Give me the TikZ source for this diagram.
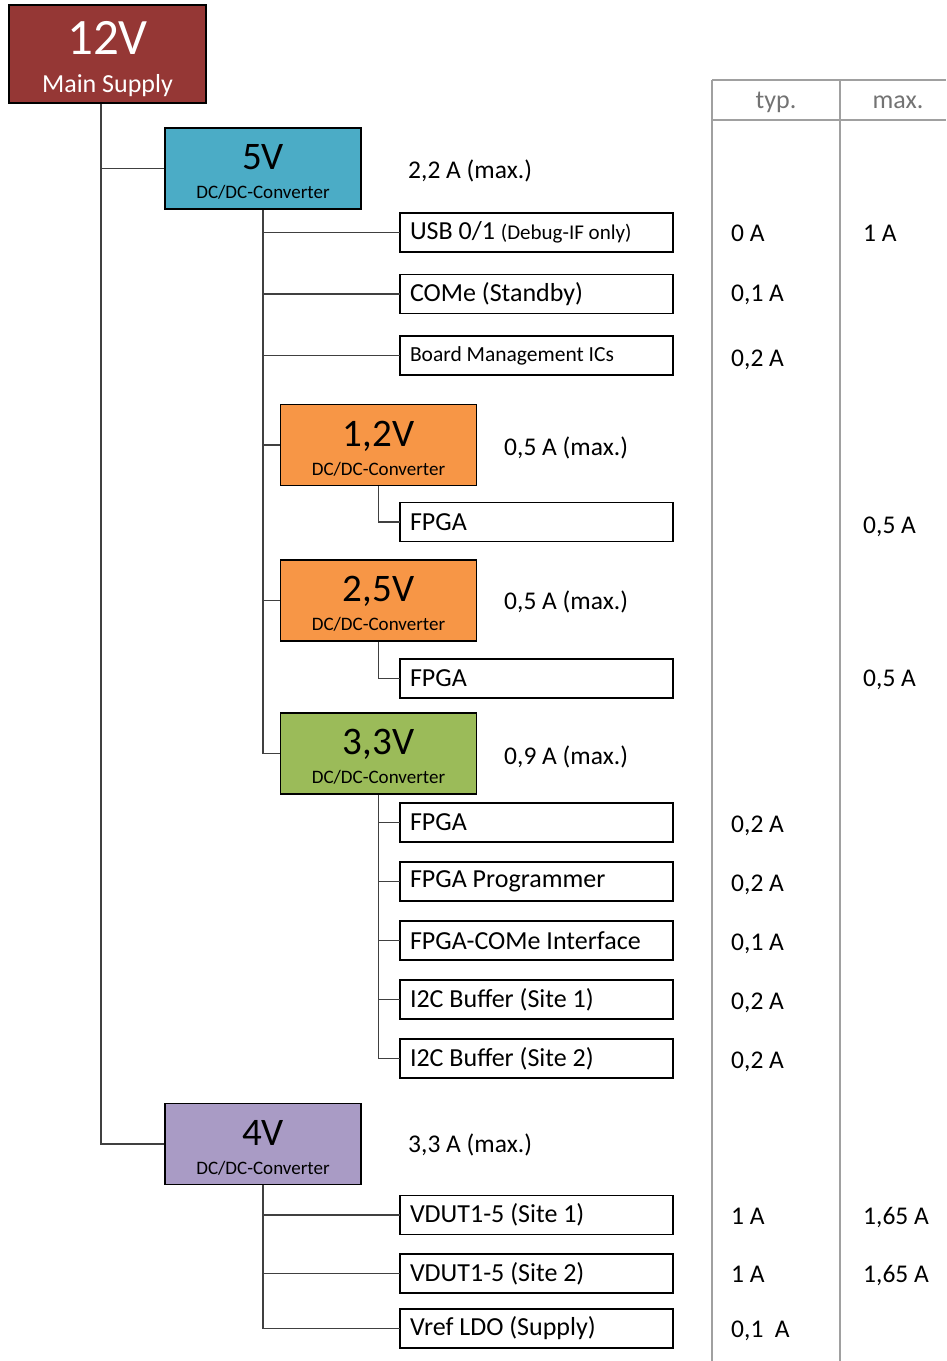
\documentclass[tikz,border=0pt]{standalone}
\usepackage{fontspec}
\setmainfont{Carlito}
\usetikzlibrary{positioning}

\definecolor{supplyred}{RGB}{149,55,53}
\definecolor{convblue}{RGB}{75,172,198}
\definecolor{convorange}{RGB}{247,150,70}
\definecolor{convgreen}{RGB}{155,187,89}
\definecolor{convpurple}{RGB}{169,155,197}
\definecolor{tablegray}{RGB}{160,160,160}

\newcommand{\fsize}[1]{\fontsize{#1}{#1}\selectfont}
\newcommand{\volts}[1]{{\fsize{39}\rule{0pt}{32pt}#1}}

\tikzset{
	conv/.style={draw, line width=1.7pt, minimum width=196pt, minimum height=81pt,
		align=center, inner sep=0pt, font=\fontsize{19}{29}\selectfont},
	load/.style={draw, line width=1.7pt, text width=253pt, inner xsep=10pt, inner ysep=0pt,
		outer sep=0pt, minimum height=39pt, align=flush left, font=\fsize{26}},
	elbow/.style={to path={|- (\tikztotarget)}},
	wire/.style={line width=1.3pt, black!75},
	amp/.style={anchor=base west, inner sep=0pt, font=\fsize{25.5}},
	head/.style={anchor=base, inner sep=0pt, font=\fsize{26}, text=black!55}
}

\begin{document}
\begin{tikzpicture}[x=1pt, y=-1pt]
			\useasboundingbox (0,0) rectangle (946,1361);
			\node (supply) [conv, fill=supplyred, text=white, minimum width=197pt, minimum height=98pt,
				font=\fontsize{26}{38}\selectfont] at (107.5,54) {{\fsize{51}\rule{0pt}{44pt}12V}\\Main Supply};
			\node (c5) [conv, fill=convblue] at (263,168.5) {\volts{5V}\\DC/DC-Converter};
			\node (c12) [conv, fill=convorange] at (378.5,445) {\volts{1,2V}\\DC/DC-Converter};
			\node (c25) [conv, fill=convorange] at (378.5,600.5) {\volts{2,5V}\\DC/DC-Converter};
			\node (c33) [conv, fill=convgreen] at (378.5,753.5) {\volts{3,3V}\\DC/DC-Converter};
			\node (c4) [conv, fill=convpurple] at (263,1144) {\volts{4V}\\DC/DC-Converter};
			% loads of the 5V rail
			\node (usb) [load] at (536.5,232.5) {USB 0/1 {\fsize{21}(Debug-IF only)}};
			\node (come) [load, below=22.5pt of usb] {COMe (Standby)};
			\node (board) [load, below=22.5pt of come, font=\fsize{21.5}] {Board Management ICs};
			\node (fpgaA) [load] at (536.5,522) {FPGA};
			\node (fpgaB) [load] at (536.5,678.5) {FPGA};
			% loads of the 3,3V rail
			\node (fpgaC) [load] at (536.5,822.5) {FPGA};
			\node (prog) [load, below=20pt of fpgaC] {FPGA Programmer};
			\node (iface) [load, below=20pt of prog] {FPGA-COMe Interface};
			\node (i2ca) [load, below=20pt of iface] {I2C Buffer (Site 1)};
			\node (i2cb) [load, below=20pt of i2ca] {I2C Buffer (Site 2)};
			% loads of the 4V rail
			\node (vdutA) [load] at (536.5,1215) {VDUT1-5 (Site 1)};
			\node (vdutB) [load, below=19.5pt of vdutA] {VDUT1-5 (Site 2)};
			\node (vref) [load, below=16pt of vdutB] {Vref LDO (Supply)};
			% currents of the converters
			\node (i5) [amp] at (408,178) {2,2 A (max.)};
			\node (i12) [amp] at (504,455) {0,5 A (max.)};
			\node (i25) [amp] at (504,609) {0,5 A (max.)};
			\node (i33) [amp] at (504,764) {0,9 A (max.)};
			\node (i4) [amp] at (408,1152) {3,3 A (max.)};
			\path[wire] ([xshift=-6.5pt]supply.south) edge[elbow] (c5.west)
			([xshift=-6.5pt]supply.south) edge[elbow] (c4.west)
			(c5.south) edge[elbow] (usb.west)
			(c5.south) edge[elbow] (come.west)
			(c5.south) edge[elbow] (board.west)
			(c5.south) edge[elbow] (c12.west)
			(c5.south) edge[elbow] (c25.west)
			(c5.south) edge[elbow] (c33.west)
			(c12.south) edge[elbow] (fpgaA.west)
			(c25.south) edge[elbow] (fpgaB.west)
			(c33.south) edge[elbow] (fpgaC.west)
			(c33.south) edge[elbow] (prog.west)
			(c33.south) edge[elbow] (iface.west)
			(c33.south) edge[elbow] (i2ca.west)
			(c33.south) edge[elbow] (i2cb.west)
			(c4.south) edge[elbow] (vdutA.west)
			(c4.south) edge[elbow] (vdutB.west)
			(c4.south) edge[elbow] (vref.west);
			% table of currents
			\draw[tablegray, line width=1.5pt] (712,80) -- (712,1361) (840,80) -- (840,1361)
			(712,80) -- (946,80) (712,120) -- (946,120);
			\node (typ) [head] at (776,108) {typ.};
			\node (max) [head] at (898,108) {max.};
			\node (usbtyp) [amp] at (731,241) {0 A};
			\node (usbmax) [amp] at (863,241) {1 A};
			\node (cometyp) [amp] at (731,301) {0,1 A};
			\node (boardtyp) [amp] at (731,366) {0,2 A};
			\node (fpgaAmax) [amp] at (863,533) {0,5 A};
			\node (fpgaBmax) [amp] at (863,686) {0,5 A};
			\node (fpgaCtyp) [amp] at (731,832) {0,2 A};
			\node (progtyp) [amp] at (731,891) {0,2 A};
			\node (ifacetyp) [amp] at (731,950) {0,1 A};
			\node (i2catyp) [amp] at (731,1009) {0,2 A};
			\node (i2cbtyp) [amp] at (731,1068) {0,2 A};
			\node (vdutAtyp) [amp] at (731,1224) {1 A};
			\node (vdutAmax) [amp] at (863,1224) {1,65 A};
			\node (vdutBtyp) [amp] at (731,1282) {1 A};
			\node (vdutBmax) [amp] at (863,1282) {1,65 A};
			\node (vreftyp) [amp] at (731,1337) {0,1~~A};
		\end{tikzpicture}
\end{document}
